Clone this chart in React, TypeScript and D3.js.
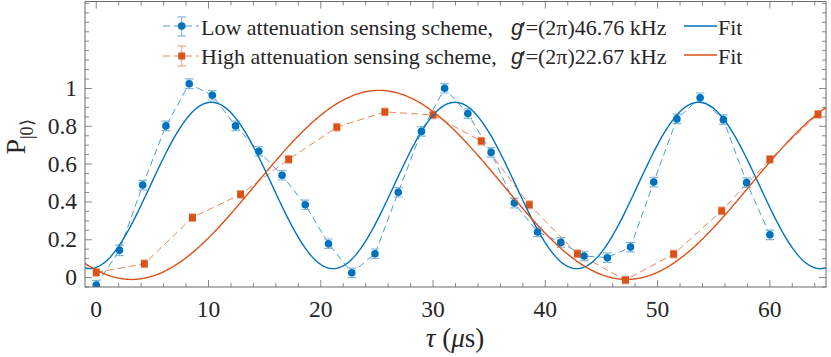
import React from "react";
import * as d3 from "d3";

// ---- data ----
const lowTau = [0, 2.07, 4.14, 6.21, 8.28, 10.34, 12.41, 14.48, 16.55, 18.62, 20.69, 22.76, 24.83, 26.9, 28.97, 31.03, 33.1, 35.17, 37.24, 39.31, 41.38, 43.45, 45.52, 47.59, 49.66, 51.72, 53.79, 55.86, 57.93, 60];
const lowP = [-0.04, 0.144, 0.489, 0.802, 1.025, 0.964, 0.802, 0.668, 0.541, 0.385, 0.179, 0.025, 0.126, 0.451, 0.773, 1.001, 0.867, 0.662, 0.394, 0.241, 0.186, 0.114, 0.105, 0.161, 0.505, 0.839, 0.951, 0.835, 0.502, 0.226];
const lowErr = [0.025, 0.028, 0.025, 0.025, 0.026, 0.025, 0.025, 0.025, 0.025, 0.025, 0.025, 0.025, 0.025, 0.025, 0.025, 0.025, 0.025, 0.025, 0.025, 0.025, 0.025, 0.025, 0.025, 0.025, 0.025, 0.025, 0.025, 0.025, 0.025, 0.025];

const highTau = [0, 4.29, 8.57, 12.86, 17.14, 21.43, 25.71, 30, 34.29, 38.57, 42.86, 47.14, 51.43, 55.71, 60, 64.29];
const highP = [0.027, 0.073, 0.317, 0.44, 0.625, 0.795, 0.876, 0.86, 0.722, 0.385, 0.126, -0.013, 0.124, 0.353, 0.625, 0.863];
const highErr = [0.02, 0.02, 0.02, 0.02, 0.02, 0.02, 0.02, 0.02, 0.02, 0.02, 0.02, 0.02, 0.02, 0.02, 0.02, 0.02];

// fit parameters: [offset, amplitude, period (us), time of minimum (us)]
const lowFit = [0.487, 0.44, 21.7, -0.6];
const highFit = [0.49, 0.5, 44.1, 3.15];

const xTickValues = [0, 10, 20, 30, 40, 50, 60];
const yTickValues = [0, 0.2, 0.4, 0.6, 0.8, 1];
const yTickLabels = ["0", "0.2", "0.4", "0.6", "0.8", "1"];

const legendLow = "Low attenuation sensing scheme,";
const legendHigh = "High attenuation sensing scheme,";
const legendLowG = "=(2π)46.76 kHz";
const legendHighG = "=(2π)22.67 kHz";

const BLUE = "#0072BD";
const BLUE_LIGHT = "#7fb8de";
const BLUE_DASH = "#4d9cd4";
const ORANGE = "#D95319";
const ORANGE_LIGHT = "#eca98c";
const ORANGE_DASH = "#e5865c";
const AX = "#6b6b6b";
const TXT = "#262626";
const SERIF = "Liberation Serif, Times New Roman, Times, serif";
const SANS = "Liberation Sans, Arial, sans-serif";

export default function App() {
  const W = 831, H = 357;
  const x = d3.scaleLinear().domain([-1, 65]).range([85, 826]);
  const y = d3.scaleLinear().domain([-0.05, 1.46]).range([287, 1.5]);
  const [x0, x1] = x.range();
  const [yb, yt] = y.range();

  const pathOf = (xs: number[], ys: number[]) =>
    d3.line<number>().x((_, i) => x(xs[i])).y((v) => y(v))(ys) || "";

  const fitPath = (p: number[]) => {
    const [off, amp, T, t0] = p;
    const pts = d3.range(-1, 65.05, 0.1);
    return d3
      .line<number>()
      .x((t) => x(t))
      .y((t) => y(off - amp * Math.cos((2 * Math.PI * (t - t0)) / T)))(pts) || "";
  };

  const xMinor = d3.range(0, 33).map((i) => i * 2);
  const yMinor = d3.range(0, 31).map((i) => -0.05 + i * 0.05);

  const errBars = (xs: number[], ys: number[], es: number[], color: string, cap: number) =>
    xs.map((t, i) => {
      const cx = x(t);
      const ylo = y(ys[i] - es[i]);
      const yhi = y(ys[i] + es[i]);
      return (
        <g key={i} stroke={color} strokeWidth={1.2}>
          <line x1={cx} x2={cx} y1={ylo} y2={yhi} />
          <line x1={cx - cap} x2={cx + cap} y1={ylo} y2={ylo} />
          <line x1={cx - cap} x2={cx + cap} y1={yhi} y2={yhi} />
        </g>
      );
    });

  const gLabel = (yy: number, rest: string) => (
    <text x={511} y={yy} fontFamily={SERIF} fontSize={22}>
      <tspan fontFamily={SANS} fontStyle="italic">g</tspan>
      <tspan dx={-1.5} fontFamily={SANS} fontSize={18}>′</tspan>
      <tspan dx={0.5}>{rest}</tspan>
    </text>
  );

  return (
    <svg width={W} height={H} style={{ position: "absolute", left: 0, top: 0, background: "#fff" }}>
      <defs>
        <clipPath id="plotclip">
          <rect x={x0} y={yt} width={x1 - x0} height={yb - yt} />
        </clipPath>
      </defs>
      <rect x={0} y={0} width={W} height={H} fill="#fff" />

      {/* ticks (inward, all four sides) */}
      <g stroke={AX} strokeWidth={0.8}>
        {xMinor.map((t) => {
          const major = t % 10 === 0;
          const L = major ? 7 : 4;
          return (
            <g key={"xt" + t}>
              <line x1={x(t)} x2={x(t)} y1={yb} y2={yb - L} />
              <line x1={x(t)} x2={x(t)} y1={yt} y2={yt + L} />
            </g>
          );
        })}
        {yMinor.map((v, i) => {
          const major = yTickValues.some((m) => Math.abs(m - v) < 1e-6);
          const L = major ? 7 : 4;
          return (
            <g key={"yt" + i}>
              <line x1={x0} x2={x0 + L} y1={y(v)} y2={y(v)} />
              <line x1={x1} x2={x1 - L} y1={y(v)} y2={y(v)} />
            </g>
          );
        })}
      </g>

      {/* data */}
      <g clipPath="url(#plotclip)">
        <path d={pathOf(lowTau, lowP)} fill="none" stroke={BLUE_DASH} strokeWidth={1} strokeDasharray="7,4" />
        <path d={pathOf(highTau, highP)} fill="none" stroke={ORANGE_DASH} strokeWidth={1} strokeDasharray="7,4" />
        {errBars(lowTau, lowP, lowErr, BLUE_LIGHT, 4.3)}
        {errBars(highTau, highP, highErr, ORANGE_LIGHT, 3.5)}
        {lowTau.map((t, i) => (
          <circle key={"lc" + i} cx={x(t)} cy={y(lowP[i])} r={3.8} fill={BLUE} />
        ))}
        {highTau.map((t, i) => (
          <rect key={"hs" + i} x={x(t) - 3.5} y={y(highP[i]) - 3.5} width={7} height={7} fill={ORANGE} />
        ))}
        <path d={fitPath(lowFit)} fill="none" stroke={BLUE} strokeWidth={1.4} />
        <path d={fitPath(highFit)} fill="none" stroke={ORANGE} strokeWidth={1.4} />
      </g>

      {/* box */}
      <rect x={x0} y={yt} width={x1 - x0} height={yb - yt} fill="none" stroke={AX} strokeWidth={1} />

      {/* tick labels */}
      <g fontFamily={SERIF} fontSize={23.5} fill={TXT}>
        {xTickValues.map((t) => (
          <text key={"xl" + t} x={x(t)} y={317} textAnchor="middle">
            {t}
          </text>
        ))}
        {yTickValues.map((v, i) => (
          <text key={"yl" + i} x={77} y={y(v) + 7.5} textAnchor="end">
            {yTickLabels[i]}
          </text>
        ))}
      </g>

      {/* axis labels */}
      <text x={455} y={347} textAnchor="middle" fontFamily={SERIF} fontSize={27} fill={TXT}>
        <tspan fontStyle="italic">τ</tspan>
        <tspan> (</tspan>
        <tspan fontStyle="italic">μ</tspan>
        <tspan>s)</tspan>
      </text>
      <text transform="translate(25,137) rotate(-90)" textAnchor="middle" fontFamily={SERIF} fontSize={28} fill={TXT}>
        <tspan>P</tspan>
        <tspan fontSize={18} dy={8}>|0⟩</tspan>
      </text>

      {/* legend */}
      <g fontFamily={SERIF} fontSize={22} fill={TXT}>
        {/* low */}
        <line x1={163} x2={199} y1={26} y2={26} stroke={BLUE_DASH} strokeWidth={1} strokeDasharray="7,4" />
        <g stroke={BLUE_LIGHT} strokeWidth={1.2}>
          <line x1={181.7} x2={181.7} y1={17} y2={36} />
          <line x1={177.4} x2={186} y1={17} y2={17} />
          <line x1={177.4} x2={186} y1={36} y2={36} />
        </g>
        <circle cx={181.7} cy={26} r={3.8} fill={BLUE} />
        <text x={201} y={34.5}>{legendLow}</text>
        {gLabel(34.5, legendLowG)}
        <line x1={684} x2={717} y1={26} y2={26} stroke={BLUE} strokeWidth={1.4} />
        <text x={718} y={34.5}>Fit</text>

        {/* high */}
        <line x1={163} x2={199} y1={56} y2={56} stroke={ORANGE_DASH} strokeWidth={1} strokeDasharray="7,4" />
        <g stroke={ORANGE_LIGHT} strokeWidth={1.2}>
          <line x1={181.7} x2={181.7} y1={46} y2={66} />
          <line x1={177.4} x2={186} y1={46} y2={46} />
          <line x1={177.4} x2={186} y1={66} y2={66} />
        </g>
        <rect x={178.2} y={52.5} width={7} height={7} fill={ORANGE} />
        <text x={201} y={64}>{legendHigh}</text>
        {gLabel(64, legendHighG)}
        <line x1={684} x2={717} y1={55} y2={55} stroke={ORANGE} strokeWidth={1.4} />
        <text x={718} y={64}>Fit</text>
      </g>
    </svg>
  );
}
